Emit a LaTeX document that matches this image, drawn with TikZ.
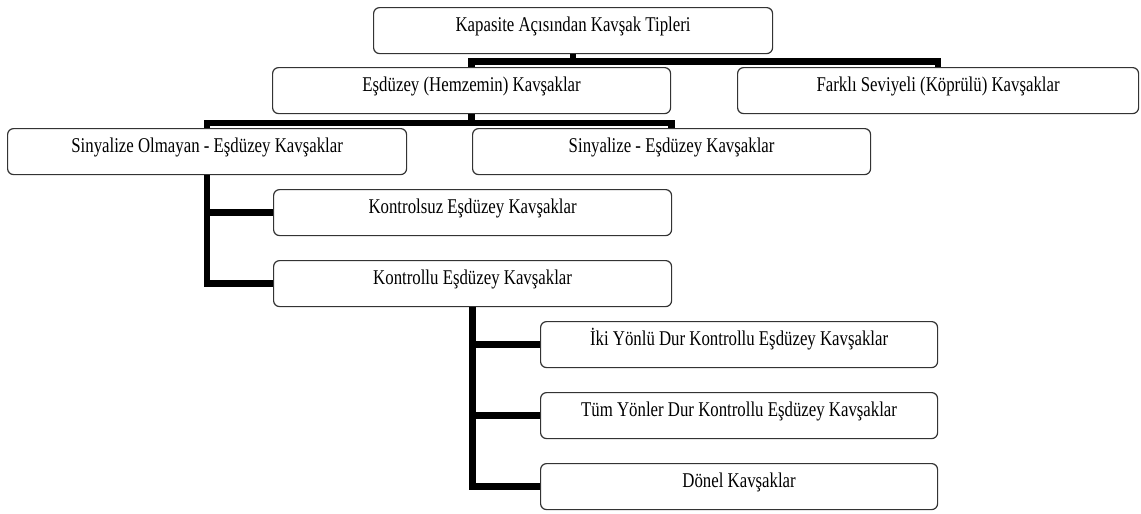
\documentclass[tikz,border=0pt]{standalone}
\usepackage{fontspec}
\setmainfont{Liberation Serif}
\newcommand\stx[1]{\scalebox{1}[1.25]{#1}}
\tikzset{
  box/.style={draw=black!80, line width=1.2pt, rounded corners=6pt, fill=white,
    anchor=north west, inner xsep=0pt, inner ysep=0pt,
    text height=23.5pt, text depth=22.5pt, minimum height=46pt,
    font=\fontsize{16.8}{20}\selectfont},
  link/.style={line width=6.5pt, line cap=butt, line join=miter}
}
\begin{document}
\begin{tikzpicture}[x=1pt,y=1pt]
\useasboundingbox (0,0) rectangle (1141,-514);
\node[box, minimum width=399pt] (top) at (373,-7) {\stx{Kapasite Açısından Kavşak Tipleri}};
\node[box, minimum width=398pt] (esd) at (272,-67) {\stx{Eşdüzey (Hemzemin) Kavşaklar}};
\node[box, minimum width=401pt] (far) at (737,-67) {\stx{Farklı Seviyeli (Köprülü) Kavşaklar}};
\node[box, minimum width=399pt] (so) at (7,-128) {\stx{Sinyalize Olmayan - Eşdüzey Kavşaklar}};
\node[box, minimum width=398pt] (sy) at (472,-128) {\stx{Sinyalize - Eşdüzey Kavşaklar}};
\node[box, minimum width=398pt] (ks) at (273,-189) {\stx{Kontrolsuz Eşdüzey Kavşaklar}};
\node[box, minimum width=398pt] (kl) at (273,-260) {\stx{Kontrollu Eşdüzey Kavşaklar}};
\node[box, minimum width=397pt] (iki) at (540,-321) {\stx{İki Yönlü Dur Kontrollu Eşdüzey Kavşaklar}};
\node[box, minimum width=397pt] (tum) at (540,-392) {\stx{Tüm Yönler Dur Kontrollu Eşdüzey Kavşaklar}};
\node[box, minimum width=397pt] (don) at (540,-463) {\stx{Dönel Kavşaklar}};
% connectors
\draw[link] (top.south) -- ([yshift=-7.5pt]top.south) -| (esd.north);
\draw[link] (top.south) -- ([yshift=-7.5pt]top.south) -| (far.north);
\draw[link] (esd.south) -- ([yshift=-9pt]esd.south) -| (so.north);
\draw[link] (esd.south) -- ([yshift=-9pt]esd.south) -| (sy.north);
\draw[link] (so.south) |- (ks.west);
\draw[link] (so.south) |- (kl.west);
\draw[link] (kl.south) |- (iki.west);
\draw[link] (kl.south) |- (tum.west);
\draw[link] (kl.south) |- (don.west);
\end{tikzpicture}
\end{document}
